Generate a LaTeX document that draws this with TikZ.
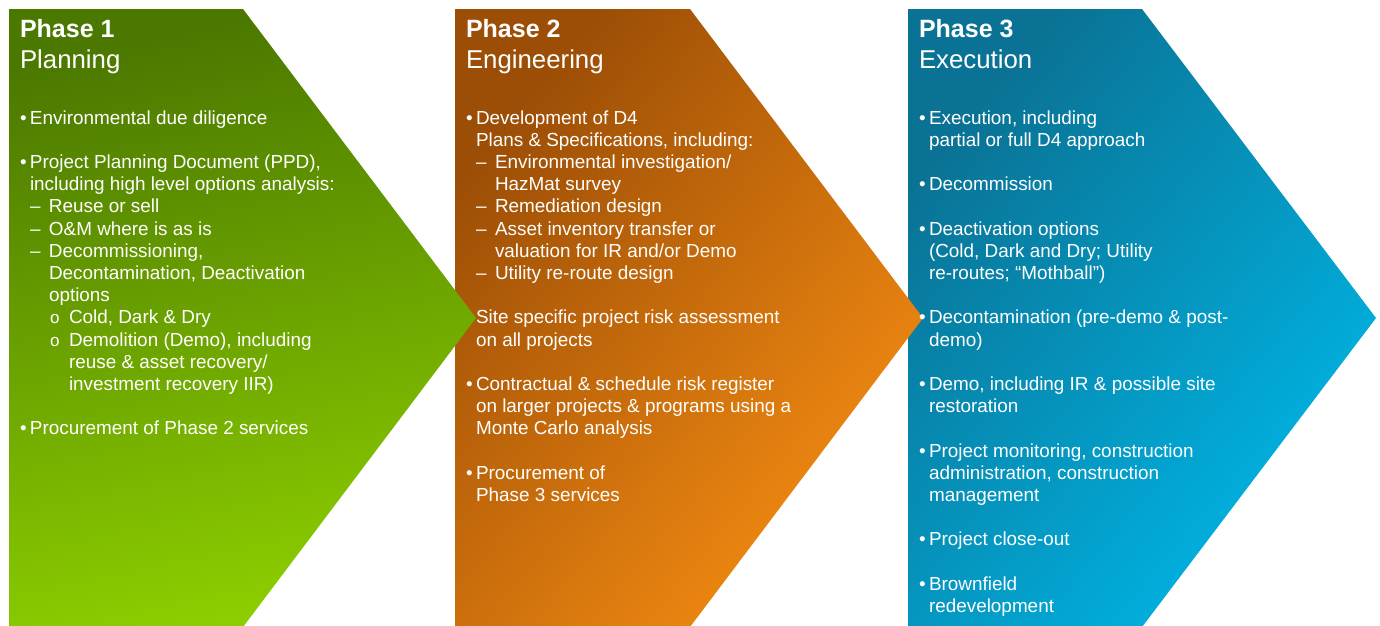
\documentclass[tikz,border=0pt]{standalone}
\usepackage{fontspec}
\setmainfont{Liberation Sans}
\definecolor{gTop}{HTML}{4B7800}
\definecolor{gBot}{HTML}{8CCE00}
\definecolor{oTop}{HTML}{9C4E06}
\definecolor{oBot}{HTML}{F58C12}
\definecolor{bTop}{HTML}{0A7294}
\definecolor{bBot}{HTML}{00B6E6}
\newcommand\bodyfont{\fontsize{18.9}{22}\selectfont}
\newcommand\titlefont{\fontsize{25}{30}\selectfont}
\newcommand\subtitlefont{\fontsize{25.8}{30}\selectfont}
\newcommand\Bu{\makebox[10pt][l]{•}}
\newcommand\Da{\makebox[19pt][l]{–}}
\newcommand\Ci{\makebox[19pt][l]{\fontsize{17}{17}\selectfont o}}
\tikzset{
  txt/.style={anchor=base west, inner sep=0pt, outer sep=0pt, text=white, font=\bodyfont},
  ttl/.style={anchor=base west, inner sep=0pt, outer sep=0pt, text=white, font=\titlefont\bfseries},
  sttl/.style={anchor=base west, inner sep=0pt, outer sep=0pt, text=white, font=\subtitlefont},
}
\newcommand\Ln[4]{\node[txt] (#1) at (#2,#3) {#4};}
\begin{document}
\begin{tikzpicture}[x=1pt,y=-1pt]
\clip (0,0) rectangle (1380,625);
\fill[white] (0,0) rectangle (1380,625);
% shapes (drawn right to left so each tip overlaps the next)
\shade[top color=bTop, bottom color=bBot, shading angle=50]
  (908,9) -- (1142,9) -- (1376,318) -- (1142,627) -- (908,627) -- cycle;
\shade[top color=oTop, bottom color=oBot, shading angle=50]
  (455,9) -- (690,9) -- (923,318) -- (690,627) -- (455,627) -- cycle;
\shade[top color=gTop, bottom color=gBot, shading angle=12]
  (9,9) -- (243,9) -- (476,318) -- (243,627) -- (9,627) -- cycle;
% titles
\node[ttl] (t1a) at (20,37) {Phase 1};
\node[sttl] (t1b) at (20,68) {Planning};
\node[ttl] (t2a) at (466,37) {Phase 2};
\node[sttl] (t2b) at (466,68) {Engineering};
\node[ttl] (t3a) at (919,37) {Phase 3};
\node[sttl] (t3b) at (919,68) {Execution};
% phase 1
\Ln{a0}{20}{124}{\Bu Environmental due diligence}
\Ln{a2}{20}{168.4}{\Bu Project Planning Document (PPD),}
\Ln{a3}{30}{190.6}{including high level options analysis:}
\Ln{a4}{30}{212.8}{\Da Reuse or sell}
\Ln{a5}{30}{235}{\Da O\&M where is as is}
\Ln{a6}{30}{257.2}{\Da Decommissioning,}
\Ln{a7}{49}{279.4}{Decontamination, Deactivation}
\Ln{a8}{49}{301.6}{options}
\Ln{a9}{50}{323.8}{\Ci Cold, Dark \& Dry}
\Ln{a10}{50}{346}{\Ci Demolition (Demo), including}
\Ln{a11}{69}{368.2}{reuse \& asset recovery/}
\Ln{a12}{69}{390.4}{investment recovery IIR)}
\Ln{a14}{20}{434.8}{\Bu Procurement of Phase 2 services}
% phase 2
\Ln{b0}{466}{124}{\Bu Development of D4}
\Ln{b1}{476}{146.2}{Plans \& Specifications, including:}
\Ln{b2}{476}{168.4}{\Da Environmental investigation/}
\Ln{b3}{495}{190.6}{HazMat survey}
\Ln{b4}{476}{212.8}{\Da Remediation design}
\Ln{b5}{476}{235}{\Da Asset inventory transfer or}
\Ln{b6}{495}{257.2}{valuation for IR and/or Demo}
\Ln{b7}{476}{279.4}{\Da Utility re-route design}
\Ln{b9}{476}{323.8}{Site specific project risk assessment}
\Ln{b10}{476}{346}{on all projects}
\Ln{b12}{466}{390.4}{\Bu Contractual \& schedule risk register}
\Ln{b13}{476}{412.6}{on larger projects \& programs using a}
\Ln{b14}{476}{434.8}{Monte Carlo analysis}
\Ln{b16}{466}{479.2}{\Bu Procurement of}
\Ln{b17}{476}{501.4}{Phase 3 services}
% phase 3
\Ln{c0}{919}{124}{\Bu Execution, including}
\Ln{c1}{929}{146.2}{partial or full D4 approach}
\Ln{c3}{919}{190.6}{\Bu Decommission}
\Ln{c5}{919}{235}{\Bu Deactivation options}
\Ln{c6}{929}{257.2}{(Cold, Dark and Dry; Utility}
\Ln{c7}{929}{279.4}{re-routes; “Mothball”)}
\Ln{c9}{919}{323.8}{\Bu Decontamination (pre-demo \& post-}
\Ln{c10}{929}{346}{demo)}
\Ln{c12}{919}{390.4}{\Bu Demo, including IR \& possible site}
\Ln{c13}{929}{412.6}{restoration}
\Ln{c15}{919}{457}{\Bu Project monitoring, construction}
\Ln{c16}{929}{479.2}{administration, construction}
\Ln{c17}{929}{501.4}{management}
\Ln{c19}{919}{545.8}{\Bu Project close-out}
\Ln{c21}{919}{590.2}{\Bu Brownfield}
\Ln{c22}{929}{612.4}{redevelopment}
\end{tikzpicture}
\end{document}
